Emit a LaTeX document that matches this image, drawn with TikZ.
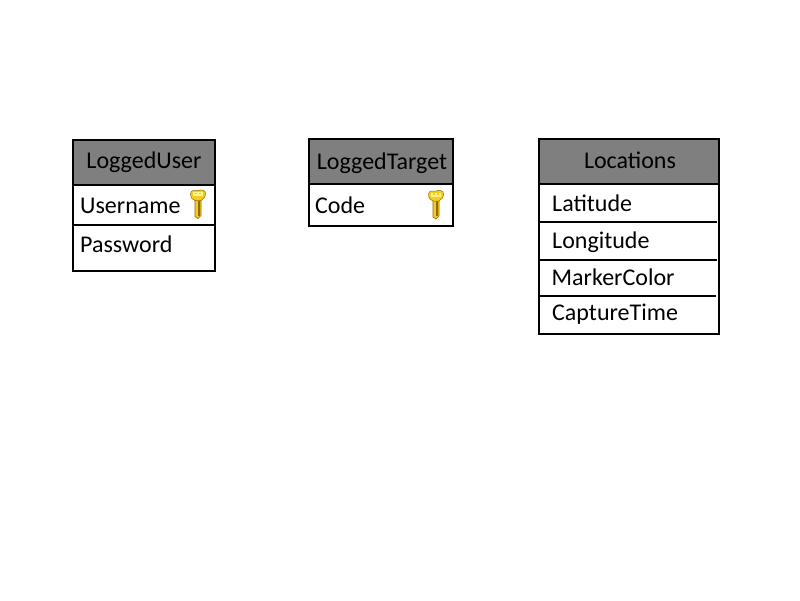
\documentclass[tikz,border=0pt]{standalone}
\usepackage{fontspec}
\setmainfont{Carlito}
\definecolor{headgrey}{RGB}{127,127,127}
\definecolor{keygold}{RGB}{245,205,30}
\definecolor{keylight}{RGB}{255,245,130}
\definecolor{keydark}{RGB}{150,105,10}
\tikzset{
  x=1pt,y=-1pt,
  boxline/.style={draw=black,line width=2pt},
  rowline/.style={draw=black,line width=2pt},
  headfill/.style={fill=headgrey,draw=none},
  label/.style={font=\fontsize{24}{26}\selectfont,text=black,inner sep=0pt},
  rowlabel/.style={label,anchor=base west},
  headlabel/.style={label,anchor=base},
  keyicon/.pic={
    \fill[keygold,draw=keydark,line width=.6pt] (-3,8) -- (3,8) -- (3,25) -- (0,28) -- (-3,26) -- cycle;
    \draw[keydark,line width=1.4pt] (1,10) -- (1,25);
    \fill[keygold,draw=keydark,line width=.5pt] (-7.5,3.5) .. controls (-7.5,-1) and (-3,0) .. (0,0) .. controls (3,-1) and (7.5,-1) .. (7.5,3) .. controls (7.5,7) and (5,8.5) .. (3,10) -- (-3,10) .. controls (-5,9) and (-7.5,8) .. (-7.5,3.5) -- cycle;
    \fill[keylight] (-5,1.5) rectangle (5,5.5);
    \fill[keygold] (-2.8,2) rectangle (-1,3.6);
    \fill[keygold] (1.4,2) rectangle (3.2,3.6);
  }
}
\begin{document}
\begin{tikzpicture}
\useasboundingbox (0,0) rectangle (800,600);
\fill[white] (0,0) rectangle (800,600);
% LoggedUser
\path[headfill] (73,140) rectangle (215,184);
\draw[boxline] (73,184) -- (73,140) -- (215,140) -- (215,184);
\draw[rowline] (73,184.5) -- (216,184.5);
\draw[rowline] (73,224.5) -- (215,224.5);
\draw[boxline] (73,184) -- (73,270.5) -- (214.5,270.5) -- (214.5,246);
\draw[boxline] (215,184) -- (215,246);
\node[headlabel] (userhead) at (144,168) {LoggedUser};
\node[rowlabel] (username) at (80,213) {Username};
\node[rowlabel] (password) at (80,252) {Password};
\pic at (198,190.5) {keyicon};
% LoggedTarget
\path[headfill] (309,139) rectangle (453,184);
\draw[boxline] (309,139) rectangle (453,226);
\draw[rowline] (309,184) -- (453,184);
\node[headlabel] (targethead) at (382,169) {LoggedTarget};
\node[rowlabel] (code) at (315,213) {Code};
\pic at (436,191) {keyicon};
% Locations
\path[headfill] (539,139) rectangle (719,184);
\draw[boxline] (539,139) rectangle (719,333.5);
\draw[rowline] (539,184) -- (719,184);
\draw[rowline] (539,222) -- (717,222);
\draw[rowline] (539,260) -- (717,260);
\draw[rowline] (539,295.5) -- (716,295.5);
\node[headlabel] (lochead) at (630,168) {Locations};
\node[rowlabel] (latitude) at (552,211) {Latitude};
\node[rowlabel] (longitude) at (552,248) {Longitude};
\node[rowlabel] (marker) at (551.5,285) {MarkerColor};
\node[rowlabel] (capture) at (552,320) {CaptureTime};
\end{tikzpicture}
\end{document}
